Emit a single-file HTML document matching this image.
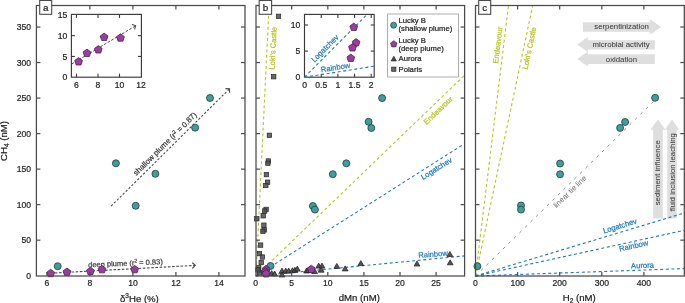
<!DOCTYPE html>
<html><head><meta charset="utf-8"><style>
html,body{margin:0;padding:0;background:#fff;width:685px;height:303px;overflow:hidden;}
svg{display:block;will-change:transform;}
</style></head><body>
<svg width="685" height="303" viewBox="0 0 685 303" font-family='"Liberation Sans", sans-serif'>
<rect width="685" height="303" fill="#fff"/>
<line x1="111.1" y1="206.1" x2="229.4" y2="88.9" stroke="#4a4a4a" stroke-width="1.1" stroke-dasharray="2.3 1.8" />
<polyline points="225.5,88.6 229.5,88.9 229.6,92.8" fill="none" stroke="#4a4a4a" stroke-width="1.15"/>
<line x1="50.5" y1="273.2" x2="195.0" y2="265.4" stroke="#4a4a4a" stroke-width="1.1" stroke-dasharray="2.6 1.6" />
<polyline points="192.2,262.8 195.3,265.3 192.3,268.4" fill="none" stroke="#4a4a4a" stroke-width="1.15"/>
<text transform="translate(125.60 265.80) rotate(-2.5)" font-size="7.5" text-anchor="middle" fill="#3a3a3a" stroke="#3a3a3a" stroke-width="0.22" >deep plume (r<tspan dy="-2.8" font-size="5.0">2</tspan><tspan dy="2.8"> = 0.83)</tspan></text>
<text transform="translate(166.80 145.70) rotate(-44.8)" font-size="7.75" text-anchor="middle" fill="#3a3a3a" stroke="#3a3a3a" stroke-width="0.22" >shallow plume (r<tspan dy="-2.9" font-size="5.2">2</tspan><tspan dy="2.9"> = 0.87)</tspan></text>
<circle cx="57.7" cy="266.2" r="3.5" fill="#3f9e9a" stroke="#1f3f3e" stroke-width="0.8"/>
<circle cx="115.9" cy="163.3" r="3.5" fill="#3f9e9a" stroke="#1f3f3e" stroke-width="0.8"/>
<circle cx="135.7" cy="205.8" r="3.5" fill="#3f9e9a" stroke="#1f3f3e" stroke-width="0.8"/>
<circle cx="155.4" cy="173.8" r="3.5" fill="#3f9e9a" stroke="#1f3f3e" stroke-width="0.8"/>
<circle cx="195.1" cy="127.7" r="3.5" fill="#3f9e9a" stroke="#1f3f3e" stroke-width="0.8"/>
<circle cx="210" cy="98" r="3.5" fill="#3f9e9a" stroke="#1f3f3e" stroke-width="0.8"/>
<polygon points="50.70,269.31 54.60,272.14 53.11,276.73 48.29,276.73 46.80,272.14" fill="#9b3d9e" stroke="#3b173d" stroke-width="0.7" stroke-linejoin="round"/>
<polygon points="67.00,268.01 70.90,270.84 69.41,275.43 64.59,275.43 63.10,270.84" fill="#9b3d9e" stroke="#3b173d" stroke-width="0.7" stroke-linejoin="round"/>
<polygon points="90.40,267.21 94.30,270.04 92.81,274.63 87.99,274.63 86.50,270.04" fill="#9b3d9e" stroke="#3b173d" stroke-width="0.7" stroke-linejoin="round"/>
<polygon points="102.00,265.41 105.90,268.24 104.41,272.83 99.59,272.83 98.10,268.24" fill="#9b3d9e" stroke="#3b173d" stroke-width="0.7" stroke-linejoin="round"/>
<polygon points="134.70,265.41 138.60,268.24 137.11,272.83 132.29,272.83 130.80,268.24" fill="#9b3d9e" stroke="#3b173d" stroke-width="0.7" stroke-linejoin="round"/>
<rect x="36.4" y="5.5" width="208.6" height="270.5" fill="none" stroke="#4a4a4a" stroke-width="1.25"/>
<line x1="46.9" y1="276.0" x2="46.9" y2="272.0" stroke="#4a4a4a" stroke-width="1.2"/>
<line x1="46.9" y1="5.5" x2="46.9" y2="9.5" stroke="#4a4a4a" stroke-width="1.2"/>
<line x1="89.9" y1="276.0" x2="89.9" y2="272.0" stroke="#4a4a4a" stroke-width="1.2"/>
<line x1="89.9" y1="5.5" x2="89.9" y2="9.5" stroke="#4a4a4a" stroke-width="1.2"/>
<line x1="132.9" y1="276.0" x2="132.9" y2="272.0" stroke="#4a4a4a" stroke-width="1.2"/>
<line x1="132.9" y1="5.5" x2="132.9" y2="9.5" stroke="#4a4a4a" stroke-width="1.2"/>
<line x1="175.9" y1="276.0" x2="175.9" y2="272.0" stroke="#4a4a4a" stroke-width="1.2"/>
<line x1="175.9" y1="5.5" x2="175.9" y2="9.5" stroke="#4a4a4a" stroke-width="1.2"/>
<line x1="218.9" y1="276.0" x2="218.9" y2="272.0" stroke="#4a4a4a" stroke-width="1.2"/>
<line x1="218.9" y1="5.5" x2="218.9" y2="9.5" stroke="#4a4a4a" stroke-width="1.2"/>
<line x1="36.4" y1="240.17499999999998" x2="40.4" y2="240.17499999999998" stroke="#4a4a4a" stroke-width="1.2"/>
<line x1="245.0" y1="240.17499999999998" x2="241.0" y2="240.17499999999998" stroke="#4a4a4a" stroke-width="1.2"/>
<line x1="36.4" y1="204.64999999999998" x2="40.4" y2="204.64999999999998" stroke="#4a4a4a" stroke-width="1.2"/>
<line x1="245.0" y1="204.64999999999998" x2="241.0" y2="204.64999999999998" stroke="#4a4a4a" stroke-width="1.2"/>
<line x1="36.4" y1="169.125" x2="40.4" y2="169.125" stroke="#4a4a4a" stroke-width="1.2"/>
<line x1="245.0" y1="169.125" x2="241.0" y2="169.125" stroke="#4a4a4a" stroke-width="1.2"/>
<line x1="36.4" y1="133.6" x2="40.4" y2="133.6" stroke="#4a4a4a" stroke-width="1.2"/>
<line x1="245.0" y1="133.6" x2="241.0" y2="133.6" stroke="#4a4a4a" stroke-width="1.2"/>
<line x1="36.4" y1="98.07499999999999" x2="40.4" y2="98.07499999999999" stroke="#4a4a4a" stroke-width="1.2"/>
<line x1="245.0" y1="98.07499999999999" x2="241.0" y2="98.07499999999999" stroke="#4a4a4a" stroke-width="1.2"/>
<line x1="36.4" y1="62.54999999999998" x2="40.4" y2="62.54999999999998" stroke="#4a4a4a" stroke-width="1.2"/>
<line x1="245.0" y1="62.54999999999998" x2="241.0" y2="62.54999999999998" stroke="#4a4a4a" stroke-width="1.2"/>
<line x1="36.4" y1="27.024999999999977" x2="40.4" y2="27.024999999999977" stroke="#4a4a4a" stroke-width="1.2"/>
<line x1="245.0" y1="27.024999999999977" x2="241.0" y2="27.024999999999977" stroke="#4a4a4a" stroke-width="1.2"/>
<text transform="translate(31.00 278.90) scale(0.935 1)" font-size="9.2" text-anchor="end" fill="#222" stroke="#222" stroke-width="0.22" >0</text>
<text transform="translate(31.00 243.37) scale(0.935 1)" font-size="9.2" text-anchor="end" fill="#222" stroke="#222" stroke-width="0.22" >50</text>
<text transform="translate(31.00 207.85) scale(0.935 1)" font-size="9.2" text-anchor="end" fill="#222" stroke="#222" stroke-width="0.22" >100</text>
<text transform="translate(31.00 172.32) scale(0.935 1)" font-size="9.2" text-anchor="end" fill="#222" stroke="#222" stroke-width="0.22" >150</text>
<text transform="translate(31.00 136.80) scale(0.935 1)" font-size="9.2" text-anchor="end" fill="#222" stroke="#222" stroke-width="0.22" >200</text>
<text transform="translate(31.00 101.27) scale(0.935 1)" font-size="9.2" text-anchor="end" fill="#222" stroke="#222" stroke-width="0.22" >250</text>
<text transform="translate(31.00 65.75) scale(0.935 1)" font-size="9.2" text-anchor="end" fill="#222" stroke="#222" stroke-width="0.22" >300</text>
<text transform="translate(31.00 30.22) scale(0.935 1)" font-size="9.2" text-anchor="end" fill="#222" stroke="#222" stroke-width="0.22" >350</text>
<text transform="translate(46.90 286.30) scale(0.935 1)" font-size="9.2" text-anchor="middle" fill="#222" stroke="#222" stroke-width="0.22" >6</text>
<text transform="translate(89.90 286.30) scale(0.935 1)" font-size="9.2" text-anchor="middle" fill="#222" stroke="#222" stroke-width="0.22" >8</text>
<text transform="translate(132.90 286.30) scale(0.935 1)" font-size="9.2" text-anchor="middle" fill="#222" stroke="#222" stroke-width="0.22" >10</text>
<text transform="translate(175.90 286.30) scale(0.935 1)" font-size="9.2" text-anchor="middle" fill="#222" stroke="#222" stroke-width="0.22" >12</text>
<text transform="translate(218.90 286.30) scale(0.935 1)" font-size="9.2" text-anchor="middle" fill="#222" stroke="#222" stroke-width="0.22" >14</text>
<rect x="71.4" y="14.4" width="70.0" height="62.800000000000004" fill="#fff" stroke="#3a3a3a" stroke-width="1.15"/>
<line x1="76.5" y1="77.2" x2="76.5" y2="73.7" stroke="#3a3a3a" stroke-width="1.1"/>
<line x1="76.5" y1="14.4" x2="76.5" y2="17.9" stroke="#3a3a3a" stroke-width="1.1"/>
<line x1="98.0" y1="77.2" x2="98.0" y2="73.7" stroke="#3a3a3a" stroke-width="1.1"/>
<line x1="98.0" y1="14.4" x2="98.0" y2="17.9" stroke="#3a3a3a" stroke-width="1.1"/>
<line x1="119.5" y1="77.2" x2="119.5" y2="73.7" stroke="#3a3a3a" stroke-width="1.1"/>
<line x1="119.5" y1="14.4" x2="119.5" y2="17.9" stroke="#3a3a3a" stroke-width="1.1"/>
<line x1="71.4" y1="56.435" x2="74.9" y2="56.435" stroke="#3a3a3a" stroke-width="1.1"/>
<line x1="141.4" y1="56.435" x2="137.9" y2="56.435" stroke="#3a3a3a" stroke-width="1.1"/>
<line x1="71.4" y1="35.67000000000001" x2="74.9" y2="35.67000000000001" stroke="#3a3a3a" stroke-width="1.1"/>
<line x1="141.4" y1="35.67000000000001" x2="137.9" y2="35.67000000000001" stroke="#3a3a3a" stroke-width="1.1"/>
<line x1="71.6" y1="64.0" x2="135.0" y2="26.2" stroke="#4a4a4a" stroke-width="1.0" stroke-dasharray="2.6 1.6" />
<polyline points="131.9,24.4 135.6,25.6 134.6,29.4" fill="none" stroke="#4a4a4a" stroke-width="1.1"/>
<polygon points="78.60,57.61 82.50,60.44 81.01,65.03 76.19,65.03 74.70,60.44" fill="#9b3d9e" stroke="#3b173d" stroke-width="0.7" stroke-linejoin="round"/>
<polygon points="87.00,49.11 90.90,51.94 89.41,56.53 84.59,56.53 83.10,51.94" fill="#9b3d9e" stroke="#3b173d" stroke-width="0.7" stroke-linejoin="round"/>
<polygon points="98.30,45.61 102.20,48.44 100.71,53.03 95.89,53.03 94.40,48.44" fill="#9b3d9e" stroke="#3b173d" stroke-width="0.7" stroke-linejoin="round"/>
<polygon points="104.10,33.11 108.00,35.94 106.51,40.53 101.69,40.53 100.20,35.94" fill="#9b3d9e" stroke="#3b173d" stroke-width="0.7" stroke-linejoin="round"/>
<polygon points="120.50,33.81 124.40,36.64 122.91,41.23 118.09,41.23 116.60,36.64" fill="#9b3d9e" stroke="#3b173d" stroke-width="0.7" stroke-linejoin="round"/>
<text transform="translate(67.20 80.40) scale(0.935 1)" font-size="9.2" text-anchor="end" fill="#222" stroke="#222" stroke-width="0.22" >0</text>
<text transform="translate(67.20 59.64) scale(0.935 1)" font-size="9.2" text-anchor="end" fill="#222" stroke="#222" stroke-width="0.22" >5</text>
<text transform="translate(67.20 38.87) scale(0.935 1)" font-size="9.2" text-anchor="end" fill="#222" stroke="#222" stroke-width="0.22" >10</text>
<text transform="translate(67.20 18.11) scale(0.935 1)" font-size="9.2" text-anchor="end" fill="#222" stroke="#222" stroke-width="0.22" >15</text>
<text transform="translate(76.50 87.60) scale(0.935 1)" font-size="9.2" text-anchor="middle" fill="#222" stroke="#222" stroke-width="0.22" >6</text>
<text transform="translate(98.00 87.60) scale(0.935 1)" font-size="9.2" text-anchor="middle" fill="#222" stroke="#222" stroke-width="0.22" >8</text>
<text transform="translate(119.50 87.60) scale(0.935 1)" font-size="9.2" text-anchor="middle" fill="#222" stroke="#222" stroke-width="0.22" >10</text>
<text transform="translate(141.00 87.60) scale(0.935 1)" font-size="9.2" text-anchor="middle" fill="#222" stroke="#222" stroke-width="0.22" >12</text>
<line x1="256.0" y1="276.0" x2="269.1" y2="5.5" stroke="#b7c423" stroke-width="1.1" stroke-dasharray="3 2.6" />
<line x1="256.0" y1="276.0" x2="464.6" y2="75.2" stroke="#b7c423" stroke-width="1.1" stroke-dasharray="3 2.6" />
<line x1="256.0" y1="276.0" x2="464.6" y2="143.6" stroke="#2079bf" stroke-width="1.1" stroke-dasharray="3 2.6" />
<line x1="256.0" y1="276.0" x2="464.6" y2="255.9" stroke="#2079bf" stroke-width="1.1" stroke-dasharray="3 2.6" />
<text transform="translate(273.10 48.20) rotate(-87)" font-size="7.6" text-anchor="middle" fill="#b7c423" stroke="#b7c423" stroke-width="0.22" dominant-baseline="central">Loki's Castle</text>
<text transform="translate(438.20 110.50) rotate(-43.5)" font-size="7.6" text-anchor="middle" fill="#b7c423" stroke="#b7c423" stroke-width="0.22" dominant-baseline="central">Endeavour</text>
<text transform="translate(436.50 168.60) rotate(-32)" font-size="7.6" text-anchor="middle" fill="#2079bf" stroke="#2079bf" stroke-width="0.22" dominant-baseline="central">Logatchev</text>
<text transform="translate(433.00 254.20) rotate(-4.5)" font-size="7.6" text-anchor="middle" fill="#2079bf" stroke="#2079bf" stroke-width="0.22" dominant-baseline="central">Rainbow</text>
<rect x="276.30" y="14.10" width="4.4" height="4.4" fill="#4e4e4e" fill-opacity="0.85" stroke="#262626" stroke-width="0.7"/>
<rect x="271.50" y="74.50" width="4.4" height="4.4" fill="#4e4e4e" fill-opacity="0.85" stroke="#262626" stroke-width="0.7"/>
<rect x="267.20" y="133.10" width="4.4" height="4.4" fill="#4e4e4e" fill-opacity="0.85" stroke="#262626" stroke-width="0.7"/>
<rect x="266.20" y="158.80" width="4.4" height="4.4" fill="#4e4e4e" fill-opacity="0.85" stroke="#262626" stroke-width="0.7"/>
<rect x="265.70" y="161.00" width="4.4" height="4.4" fill="#4e4e4e" fill-opacity="0.85" stroke="#262626" stroke-width="0.7"/>
<rect x="264.20" y="172.40" width="4.4" height="4.4" fill="#4e4e4e" fill-opacity="0.85" stroke="#262626" stroke-width="0.7"/>
<rect x="265.40" y="180.00" width="4.4" height="4.4" fill="#4e4e4e" fill-opacity="0.85" stroke="#262626" stroke-width="0.7"/>
<rect x="263.60" y="183.30" width="4.4" height="4.4" fill="#4e4e4e" fill-opacity="0.85" stroke="#262626" stroke-width="0.7"/>
<rect x="263.90" y="207.20" width="4.4" height="4.4" fill="#4e4e4e" fill-opacity="0.85" stroke="#262626" stroke-width="0.7"/>
<rect x="262.50" y="208.80" width="4.4" height="4.4" fill="#4e4e4e" fill-opacity="0.85" stroke="#262626" stroke-width="0.7"/>
<rect x="261.00" y="213.60" width="4.4" height="4.4" fill="#4e4e4e" fill-opacity="0.85" stroke="#262626" stroke-width="0.7"/>
<rect x="254.60" y="216.60" width="4.4" height="4.4" fill="#4e4e4e" fill-opacity="0.85" stroke="#262626" stroke-width="0.7"/>
<rect x="261.70" y="223.00" width="4.4" height="4.4" fill="#4e4e4e" fill-opacity="0.85" stroke="#262626" stroke-width="0.7"/>
<rect x="262.00" y="227.70" width="4.4" height="4.4" fill="#4e4e4e" fill-opacity="0.85" stroke="#262626" stroke-width="0.7"/>
<rect x="260.70" y="229.10" width="4.4" height="4.4" fill="#4e4e4e" fill-opacity="0.85" stroke="#262626" stroke-width="0.7"/>
<rect x="258.40" y="242.90" width="4.4" height="4.4" fill="#4e4e4e" fill-opacity="0.85" stroke="#262626" stroke-width="0.7"/>
<rect x="257.30" y="251.40" width="4.4" height="4.4" fill="#4e4e4e" fill-opacity="0.85" stroke="#262626" stroke-width="0.7"/>
<rect x="260.20" y="254.80" width="4.4" height="4.4" fill="#4e4e4e" fill-opacity="0.85" stroke="#262626" stroke-width="0.7"/>
<rect x="259.00" y="260.30" width="4.4" height="4.4" fill="#4e4e4e" fill-opacity="0.85" stroke="#262626" stroke-width="0.7"/>
<rect x="256.50" y="265.50" width="4.4" height="4.4" fill="#4e4e4e" fill-opacity="0.85" stroke="#262626" stroke-width="0.7"/>
<rect x="257.30" y="270.70" width="4.4" height="4.4" fill="#4e4e4e" fill-opacity="0.85" stroke="#262626" stroke-width="0.7"/>
<rect x="255.80" y="267.70" width="4.4" height="4.4" fill="#4e4e4e" fill-opacity="0.85" stroke="#262626" stroke-width="0.7"/>
<polygon points="271.70,270.50 274.60,275.50 268.80,275.50" fill="#555" stroke="#1a1a1a" stroke-width="0.7" stroke-linejoin="round"/>
<polygon points="274.60,271.00 277.50,276.00 271.70,276.00" fill="#555" stroke="#1a1a1a" stroke-width="0.7" stroke-linejoin="round"/>
<polygon points="282.00,268.10 284.90,273.10 279.10,273.10" fill="#555" stroke="#1a1a1a" stroke-width="0.7" stroke-linejoin="round"/>
<polygon points="282.00,272.00 284.90,277.00 279.10,277.00" fill="#555" stroke="#1a1a1a" stroke-width="0.7" stroke-linejoin="round"/>
<polygon points="285.80,268.10 288.70,273.10 282.90,273.10" fill="#555" stroke="#1a1a1a" stroke-width="0.7" stroke-linejoin="round"/>
<polygon points="288.70,268.10 291.60,273.10 285.80,273.10" fill="#555" stroke="#1a1a1a" stroke-width="0.7" stroke-linejoin="round"/>
<polygon points="292.40,267.70 295.30,272.70 289.50,272.70" fill="#555" stroke="#1a1a1a" stroke-width="0.7" stroke-linejoin="round"/>
<polygon points="294.90,267.30 297.80,272.30 292.00,272.30" fill="#555" stroke="#1a1a1a" stroke-width="0.7" stroke-linejoin="round"/>
<polygon points="297.30,266.10 300.20,271.10 294.40,271.10" fill="#555" stroke="#1a1a1a" stroke-width="0.7" stroke-linejoin="round"/>
<polygon points="306.60,268.00 309.50,273.00 303.70,273.00" fill="#555" stroke="#1a1a1a" stroke-width="0.7" stroke-linejoin="round"/>
<polygon points="308.30,267.50 311.20,272.50 305.40,272.50" fill="#555" stroke="#1a1a1a" stroke-width="0.7" stroke-linejoin="round"/>
<polygon points="314.60,268.50 317.50,273.50 311.70,273.50" fill="#555" stroke="#1a1a1a" stroke-width="0.7" stroke-linejoin="round"/>
<polygon points="318.70,263.10 321.60,268.10 315.80,268.10" fill="#555" stroke="#1a1a1a" stroke-width="0.7" stroke-linejoin="round"/>
<polygon points="322.00,263.10 324.90,268.10 319.10,268.10" fill="#555" stroke="#1a1a1a" stroke-width="0.7" stroke-linejoin="round"/>
<polygon points="321.20,267.20 324.10,272.20 318.30,272.20" fill="#555" stroke="#1a1a1a" stroke-width="0.7" stroke-linejoin="round"/>
<polygon points="336.80,263.40 339.70,268.40 333.90,268.40" fill="#555" stroke="#1a1a1a" stroke-width="0.7" stroke-linejoin="round"/>
<polygon points="345.10,265.90 348.00,270.90 342.20,270.90" fill="#555" stroke="#1a1a1a" stroke-width="0.7" stroke-linejoin="round"/>
<polygon points="360.80,260.60 363.70,265.60 357.90,265.60" fill="#555" stroke="#1a1a1a" stroke-width="0.7" stroke-linejoin="round"/>
<polygon points="417.00,261.00 419.90,266.00 414.10,266.00" fill="#555" stroke="#1a1a1a" stroke-width="0.7" stroke-linejoin="round"/>
<polygon points="449.90,251.50 452.80,256.50 447.00,256.50" fill="#555" stroke="#1a1a1a" stroke-width="0.7" stroke-linejoin="round"/>
<polygon points="450.20,259.80 453.10,264.80 447.30,264.80" fill="#555" stroke="#1a1a1a" stroke-width="0.7" stroke-linejoin="round"/>
<circle cx="270.5" cy="266.0" r="3.5" fill="#3f9e9a" stroke="#1f3f3e" stroke-width="0.8"/>
<circle cx="312.9" cy="206" r="3.5" fill="#3f9e9a" stroke="#1f3f3e" stroke-width="0.8"/>
<circle cx="314.9" cy="209.6" r="3.5" fill="#3f9e9a" stroke="#1f3f3e" stroke-width="0.8"/>
<circle cx="332.8" cy="174.2" r="3.5" fill="#3f9e9a" stroke="#1f3f3e" stroke-width="0.8"/>
<circle cx="346.3" cy="163.3" r="3.5" fill="#3f9e9a" stroke="#1f3f3e" stroke-width="0.8"/>
<circle cx="368.6" cy="121.8" r="3.5" fill="#3f9e9a" stroke="#1f3f3e" stroke-width="0.8"/>
<circle cx="371.3" cy="128" r="3.5" fill="#3f9e9a" stroke="#1f3f3e" stroke-width="0.8"/>
<circle cx="382.1" cy="98.1" r="3.5" fill="#3f9e9a" stroke="#1f3f3e" stroke-width="0.8"/>
<polygon points="266.10,265.31 270.00,268.14 268.51,272.73 263.69,272.73 262.20,268.14" fill="#9b3d9e" stroke="#3b173d" stroke-width="0.7" stroke-linejoin="round"/>
<polygon points="265.60,267.71 269.50,270.54 268.01,275.13 263.19,275.13 261.70,270.54" fill="#9b3d9e" stroke="#3b173d" stroke-width="0.7" stroke-linejoin="round"/>
<polygon points="266.10,269.61 270.00,272.44 268.51,277.03 263.69,277.03 262.20,272.44" fill="#9b3d9e" stroke="#3b173d" stroke-width="0.7" stroke-linejoin="round"/>
<polygon points="311.30,265.21 315.20,268.04 313.71,272.63 308.89,272.63 307.40,268.04" fill="#9b3d9e" stroke="#3b173d" stroke-width="0.7" stroke-linejoin="round"/>
<rect x="256.0" y="5.5" width="208.60000000000002" height="270.5" fill="none" stroke="#4a4a4a" stroke-width="1.25"/>
<line x1="291.7" y1="276.0" x2="291.7" y2="272.0" stroke="#4a4a4a" stroke-width="1.2"/>
<line x1="291.7" y1="5.5" x2="291.7" y2="9.5" stroke="#4a4a4a" stroke-width="1.2"/>
<line x1="327.8" y1="276.0" x2="327.8" y2="272.0" stroke="#4a4a4a" stroke-width="1.2"/>
<line x1="327.8" y1="5.5" x2="327.8" y2="9.5" stroke="#4a4a4a" stroke-width="1.2"/>
<line x1="363.9" y1="276.0" x2="363.9" y2="272.0" stroke="#4a4a4a" stroke-width="1.2"/>
<line x1="363.9" y1="5.5" x2="363.9" y2="9.5" stroke="#4a4a4a" stroke-width="1.2"/>
<line x1="400.0" y1="276.0" x2="400.0" y2="272.0" stroke="#4a4a4a" stroke-width="1.2"/>
<line x1="400.0" y1="5.5" x2="400.0" y2="9.5" stroke="#4a4a4a" stroke-width="1.2"/>
<line x1="436.1" y1="276.0" x2="436.1" y2="272.0" stroke="#4a4a4a" stroke-width="1.2"/>
<line x1="436.1" y1="5.5" x2="436.1" y2="9.5" stroke="#4a4a4a" stroke-width="1.2"/>
<line x1="256.0" y1="240.17499999999998" x2="260.0" y2="240.17499999999998" stroke="#4a4a4a" stroke-width="1.2"/>
<line x1="464.6" y1="240.17499999999998" x2="460.6" y2="240.17499999999998" stroke="#4a4a4a" stroke-width="1.2"/>
<line x1="256.0" y1="204.64999999999998" x2="260.0" y2="204.64999999999998" stroke="#4a4a4a" stroke-width="1.2"/>
<line x1="464.6" y1="204.64999999999998" x2="460.6" y2="204.64999999999998" stroke="#4a4a4a" stroke-width="1.2"/>
<line x1="256.0" y1="169.125" x2="260.0" y2="169.125" stroke="#4a4a4a" stroke-width="1.2"/>
<line x1="464.6" y1="169.125" x2="460.6" y2="169.125" stroke="#4a4a4a" stroke-width="1.2"/>
<line x1="256.0" y1="133.6" x2="260.0" y2="133.6" stroke="#4a4a4a" stroke-width="1.2"/>
<line x1="464.6" y1="133.6" x2="460.6" y2="133.6" stroke="#4a4a4a" stroke-width="1.2"/>
<line x1="256.0" y1="98.07499999999999" x2="260.0" y2="98.07499999999999" stroke="#4a4a4a" stroke-width="1.2"/>
<line x1="464.6" y1="98.07499999999999" x2="460.6" y2="98.07499999999999" stroke="#4a4a4a" stroke-width="1.2"/>
<line x1="256.0" y1="62.54999999999998" x2="260.0" y2="62.54999999999998" stroke="#4a4a4a" stroke-width="1.2"/>
<line x1="464.6" y1="62.54999999999998" x2="460.6" y2="62.54999999999998" stroke="#4a4a4a" stroke-width="1.2"/>
<line x1="256.0" y1="27.024999999999977" x2="260.0" y2="27.024999999999977" stroke="#4a4a4a" stroke-width="1.2"/>
<line x1="464.6" y1="27.024999999999977" x2="460.6" y2="27.024999999999977" stroke="#4a4a4a" stroke-width="1.2"/>
<text transform="translate(255.60 286.30) scale(0.935 1)" font-size="9.2" text-anchor="middle" fill="#222" stroke="#222" stroke-width="0.22" >0</text>
<text transform="translate(291.70 286.30) scale(0.935 1)" font-size="9.2" text-anchor="middle" fill="#222" stroke="#222" stroke-width="0.22" >5</text>
<text transform="translate(327.80 286.30) scale(0.935 1)" font-size="9.2" text-anchor="middle" fill="#222" stroke="#222" stroke-width="0.22" >10</text>
<text transform="translate(363.90 286.30) scale(0.935 1)" font-size="9.2" text-anchor="middle" fill="#222" stroke="#222" stroke-width="0.22" >15</text>
<text transform="translate(400.00 286.30) scale(0.935 1)" font-size="9.2" text-anchor="middle" fill="#222" stroke="#222" stroke-width="0.22" >20</text>
<text transform="translate(436.10 286.30) scale(0.935 1)" font-size="9.2" text-anchor="middle" fill="#222" stroke="#222" stroke-width="0.22" >25</text>
<rect x="304.5" y="14.4" width="69.69999999999999" height="62.800000000000004" fill="#fff" stroke="#3a3a3a" stroke-width="1.15"/>
<line x1="321.25" y1="77.2" x2="321.25" y2="73.7" stroke="#3a3a3a" stroke-width="1.1"/>
<line x1="321.25" y1="14.4" x2="321.25" y2="17.9" stroke="#3a3a3a" stroke-width="1.1"/>
<line x1="337.90000000000003" y1="77.2" x2="337.90000000000003" y2="73.7" stroke="#3a3a3a" stroke-width="1.1"/>
<line x1="337.90000000000003" y1="14.4" x2="337.90000000000003" y2="17.9" stroke="#3a3a3a" stroke-width="1.1"/>
<line x1="354.55" y1="77.2" x2="354.55" y2="73.7" stroke="#3a3a3a" stroke-width="1.1"/>
<line x1="354.55" y1="14.4" x2="354.55" y2="17.9" stroke="#3a3a3a" stroke-width="1.1"/>
<line x1="371.20000000000005" y1="77.2" x2="371.20000000000005" y2="73.7" stroke="#3a3a3a" stroke-width="1.1"/>
<line x1="371.20000000000005" y1="14.4" x2="371.20000000000005" y2="17.9" stroke="#3a3a3a" stroke-width="1.1"/>
<line x1="304.5" y1="51.10000000000001" x2="308.0" y2="51.10000000000001" stroke="#3a3a3a" stroke-width="1.1"/>
<line x1="374.2" y1="51.10000000000001" x2="370.7" y2="51.10000000000001" stroke="#3a3a3a" stroke-width="1.1"/>
<line x1="304.5" y1="25.000000000000007" x2="308.0" y2="25.000000000000007" stroke="#3a3a3a" stroke-width="1.1"/>
<line x1="374.2" y1="25.000000000000007" x2="370.7" y2="25.000000000000007" stroke="#3a3a3a" stroke-width="1.1"/>
<line x1="304.5" y1="77.2" x2="367.1" y2="14.4" stroke="#2079bf" stroke-width="1.1" stroke-dasharray="3 2.6" />
<line x1="304.5" y1="77.2" x2="374.2" y2="66.2" stroke="#2079bf" stroke-width="1.1" stroke-dasharray="3 2.6" />
<text transform="translate(325.00 48.50) rotate(-45)" font-size="7.6" text-anchor="middle" fill="#2079bf" stroke="#2079bf" stroke-width="0.22" dominant-baseline="central">Logatchev</text>
<text transform="translate(335.50 67.50) rotate(-9)" font-size="7.6" text-anchor="middle" fill="#2079bf" stroke="#2079bf" stroke-width="0.22" dominant-baseline="central">Rainbow</text>
<polygon points="353.80,23.11 357.70,25.94 356.21,30.53 351.39,30.53 349.90,25.94" fill="#9b3d9e" stroke="#3b173d" stroke-width="0.7" stroke-linejoin="round"/>
<polygon points="356.10,38.61 360.00,41.44 358.51,46.03 353.69,46.03 352.20,41.44" fill="#9b3d9e" stroke="#3b173d" stroke-width="0.7" stroke-linejoin="round"/>
<polygon points="352.50,43.61 356.40,46.44 354.91,51.03 350.09,51.03 348.60,46.44" fill="#9b3d9e" stroke="#3b173d" stroke-width="0.7" stroke-linejoin="round"/>
<polygon points="350.80,54.11 354.70,56.94 353.21,61.53 348.39,61.53 346.90,56.94" fill="#9b3d9e" stroke="#3b173d" stroke-width="0.7" stroke-linejoin="round"/>
<text transform="translate(300.20 80.40) scale(0.935 1)" font-size="9.2" text-anchor="end" fill="#222" stroke="#222" stroke-width="0.22" >0</text>
<text transform="translate(300.20 54.30) scale(0.935 1)" font-size="9.2" text-anchor="end" fill="#222" stroke="#222" stroke-width="0.22" >5</text>
<text transform="translate(300.20 28.20) scale(0.935 1)" font-size="9.2" text-anchor="end" fill="#222" stroke="#222" stroke-width="0.22" >10</text>
<text transform="translate(304.60 87.60) scale(0.935 1)" font-size="9.2" text-anchor="middle" fill="#222" stroke="#222" stroke-width="0.22" >0</text>
<text transform="translate(321.25 87.60) scale(0.935 1)" font-size="9.2" text-anchor="middle" fill="#222" stroke="#222" stroke-width="0.22" >0.5</text>
<text transform="translate(337.90 87.60) scale(0.935 1)" font-size="9.2" text-anchor="middle" fill="#222" stroke="#222" stroke-width="0.22" >1</text>
<text transform="translate(354.55 87.60) scale(0.935 1)" font-size="9.2" text-anchor="middle" fill="#222" stroke="#222" stroke-width="0.22" >1.5</text>
<text transform="translate(371.20 87.60) scale(0.935 1)" font-size="9.2" text-anchor="middle" fill="#222" stroke="#222" stroke-width="0.22" >2</text>
<rect x="387.6" y="14" width="70.9" height="63" fill="#fff" stroke="#9a9a9a" stroke-width="0.8"/>
<circle cx="393.6" cy="25.2" r="3.0" fill="#3f9e9a" stroke="#1f3f3e" stroke-width="0.7"/>
<polygon points="393.80,40.74 397.03,43.09 395.80,46.89 391.80,46.89 390.57,43.09" fill="#9b3d9e" stroke="#3b173d" stroke-width="0.6" stroke-linejoin="round"/>
<polygon points="393.80,56.30 396.40,60.90 391.20,60.90" fill="#555" stroke="#1a1a1a" stroke-width="0.7" stroke-linejoin="round"/>
<rect x="391.70" y="67.10" width="4.2" height="4.2" fill="#4e4e4e" fill-opacity="0.85" stroke="#262626" stroke-width="0.7"/>
<text transform="translate(398.50 23.20)" font-size="7.7" text-anchor="start" fill="#222" stroke="#222" stroke-width="0.22" >Lucky B</text>
<text transform="translate(398.50 31.10)" font-size="7.7" text-anchor="start" fill="#222" stroke="#222" stroke-width="0.22" >(shallow plume)</text>
<text transform="translate(398.50 42.50)" font-size="7.7" text-anchor="start" fill="#222" stroke="#222" stroke-width="0.22" >Lucky B</text>
<text transform="translate(398.50 50.50)" font-size="7.7" text-anchor="start" fill="#222" stroke="#222" stroke-width="0.22" >(deep plume)</text>
<text transform="translate(398.50 61.00)" font-size="7.7" text-anchor="start" fill="#222" stroke="#222" stroke-width="0.22" >Aurora</text>
<text transform="translate(398.50 71.70)" font-size="7.7" text-anchor="start" fill="#222" stroke="#222" stroke-width="0.22" >Polaris</text>
<polygon points="582.9,22.2 650.2,22.2 650.2,19.2 661.1,27.0 650.2,34.7 650.2,31.8 582.9,31.8" fill="#dedede"/>
<polygon points="654.8,40.2 587.8,40.2 587.8,36.9 577.3,44.6 587.8,52.1 587.8,49.4 654.8,49.4" fill="#dedede"/>
<polygon points="654.8,54.3 587.8,54.3 587.8,51.5 577.3,59.0 587.8,66.5 587.8,63.9 654.8,63.9" fill="#dedede"/>
<polygon points="653.2,218.4 653.2,129.8 650.3,129.8 657.9,119.5 665.3,129.8 662.8,129.8 662.8,218.4" fill="#dedede"/>
<polygon points="667.2,218.4 667.2,129.8 664.8,129.8 672.0,119.5 679.2,129.8 676.7,129.8 676.7,218.4" fill="#dedede"/>
<text transform="translate(621.60 29.20)" font-size="7.8" text-anchor="middle" fill="#3a3a3a" stroke="#3a3a3a" stroke-width="0.05" >serpentinization</text>
<text transform="translate(621.00 47.10)" font-size="7.8" text-anchor="middle" fill="#3a3a3a" stroke="#3a3a3a" stroke-width="0.05" >microbial activity</text>
<text transform="translate(621.40 61.50)" font-size="7.8" text-anchor="middle" fill="#3a3a3a" stroke="#3a3a3a" stroke-width="0.05" >oxidation</text>
<text transform="translate(657.90 172.80) rotate(-90)" font-size="7.8" text-anchor="middle" fill="#3a3a3a" stroke="#3a3a3a" stroke-width="0.05" dominant-baseline="central">sediment influence</text>
<text transform="translate(672.00 172.20) rotate(-90)" font-size="7.8" text-anchor="middle" fill="#3a3a3a" stroke="#3a3a3a" stroke-width="0.05" dominant-baseline="central">fluid inclusion leaching</text>
<line x1="475.5" y1="276.0" x2="508.5" y2="5.5" stroke="#b7c423" stroke-width="1.1" stroke-dasharray="3 2.6" />
<line x1="475.5" y1="276.0" x2="532.7" y2="5.5" stroke="#b7c423" stroke-width="1.1" stroke-dasharray="3 2.6" />
<line x1="475.5" y1="276.0" x2="653.5" y2="101.5" stroke="#858585" stroke-width="0.9" stroke-dasharray="2.8 4.9" />
<line x1="475.5" y1="276.0" x2="684.3" y2="213.0" stroke="#2079bf" stroke-width="1.1" stroke-dasharray="3 2.6" />
<line x1="475.5" y1="276.0" x2="684.3" y2="230.3" stroke="#2079bf" stroke-width="1.1" stroke-dasharray="3 2.6" />
<line x1="475.5" y1="276.0" x2="684.3" y2="268.6" stroke="#2079bf" stroke-width="1.1" stroke-dasharray="3 2.6" />
<text transform="translate(497.80 45.20) rotate(-82.8)" font-size="7.6" text-anchor="middle" fill="#b7c423" stroke="#b7c423" stroke-width="0.22" dominant-baseline="central">Endeavour</text>
<text transform="translate(529.50 48.20) rotate(-78.3)" font-size="7.6" text-anchor="middle" fill="#b7c423" stroke="#b7c423" stroke-width="0.22" dominant-baseline="central">Loki's Castle</text>
<text transform="translate(570.00 191.70) rotate(-44)" font-size="7.6" text-anchor="middle" fill="#707070" stroke="#707070" stroke-width="0.0" dominant-baseline="central">linear tie line</text>
<text transform="translate(619.90 226.00) rotate(-17)" font-size="7.6" text-anchor="middle" fill="#2079bf" stroke="#2079bf" stroke-width="0.22" dominant-baseline="central">Logatchev</text>
<text transform="translate(633.60 245.90) rotate(-12.5)" font-size="7.6" text-anchor="middle" fill="#2079bf" stroke="#2079bf" stroke-width="0.22" dominant-baseline="central">Rainbow</text>
<text transform="translate(642.40 265.50) rotate(-2)" font-size="7.6" text-anchor="middle" fill="#2079bf" stroke="#2079bf" stroke-width="0.22" dominant-baseline="central">Aurora</text>
<circle cx="477.4" cy="266.2" r="3.5" fill="#3f9e9a" stroke="#1f3f3e" stroke-width="0.8"/>
<circle cx="521" cy="205.5" r="3.5" fill="#3f9e9a" stroke="#1f3f3e" stroke-width="0.8"/>
<circle cx="521" cy="209.6" r="3.5" fill="#3f9e9a" stroke="#1f3f3e" stroke-width="0.8"/>
<circle cx="560.1" cy="163.5" r="3.5" fill="#3f9e9a" stroke="#1f3f3e" stroke-width="0.8"/>
<circle cx="560.1" cy="174.3" r="3.5" fill="#3f9e9a" stroke="#1f3f3e" stroke-width="0.8"/>
<circle cx="620.1" cy="127.9" r="3.5" fill="#3f9e9a" stroke="#1f3f3e" stroke-width="0.8"/>
<circle cx="625.1" cy="122" r="3.5" fill="#3f9e9a" stroke="#1f3f3e" stroke-width="0.8"/>
<circle cx="655.1" cy="97.8" r="3.5" fill="#3f9e9a" stroke="#1f3f3e" stroke-width="0.8"/>
<rect x="475.5" y="5.5" width="208.79999999999995" height="270.5" fill="none" stroke="#4a4a4a" stroke-width="1.25"/>
<line x1="517.6" y1="276.0" x2="517.6" y2="272.0" stroke="#4a4a4a" stroke-width="1.2"/>
<line x1="517.6" y1="5.5" x2="517.6" y2="9.5" stroke="#4a4a4a" stroke-width="1.2"/>
<line x1="559.7" y1="276.0" x2="559.7" y2="272.0" stroke="#4a4a4a" stroke-width="1.2"/>
<line x1="559.7" y1="5.5" x2="559.7" y2="9.5" stroke="#4a4a4a" stroke-width="1.2"/>
<line x1="601.8" y1="276.0" x2="601.8" y2="272.0" stroke="#4a4a4a" stroke-width="1.2"/>
<line x1="601.8" y1="5.5" x2="601.8" y2="9.5" stroke="#4a4a4a" stroke-width="1.2"/>
<line x1="643.9" y1="276.0" x2="643.9" y2="272.0" stroke="#4a4a4a" stroke-width="1.2"/>
<line x1="643.9" y1="5.5" x2="643.9" y2="9.5" stroke="#4a4a4a" stroke-width="1.2"/>
<line x1="475.5" y1="240.17499999999998" x2="479.5" y2="240.17499999999998" stroke="#4a4a4a" stroke-width="1.2"/>
<line x1="684.3" y1="240.17499999999998" x2="680.3" y2="240.17499999999998" stroke="#4a4a4a" stroke-width="1.2"/>
<line x1="475.5" y1="204.64999999999998" x2="479.5" y2="204.64999999999998" stroke="#4a4a4a" stroke-width="1.2"/>
<line x1="684.3" y1="204.64999999999998" x2="680.3" y2="204.64999999999998" stroke="#4a4a4a" stroke-width="1.2"/>
<line x1="475.5" y1="169.125" x2="479.5" y2="169.125" stroke="#4a4a4a" stroke-width="1.2"/>
<line x1="684.3" y1="169.125" x2="680.3" y2="169.125" stroke="#4a4a4a" stroke-width="1.2"/>
<line x1="475.5" y1="133.6" x2="479.5" y2="133.6" stroke="#4a4a4a" stroke-width="1.2"/>
<line x1="684.3" y1="133.6" x2="680.3" y2="133.6" stroke="#4a4a4a" stroke-width="1.2"/>
<line x1="475.5" y1="98.07499999999999" x2="479.5" y2="98.07499999999999" stroke="#4a4a4a" stroke-width="1.2"/>
<line x1="684.3" y1="98.07499999999999" x2="680.3" y2="98.07499999999999" stroke="#4a4a4a" stroke-width="1.2"/>
<line x1="475.5" y1="62.54999999999998" x2="479.5" y2="62.54999999999998" stroke="#4a4a4a" stroke-width="1.2"/>
<line x1="684.3" y1="62.54999999999998" x2="680.3" y2="62.54999999999998" stroke="#4a4a4a" stroke-width="1.2"/>
<line x1="475.5" y1="27.024999999999977" x2="479.5" y2="27.024999999999977" stroke="#4a4a4a" stroke-width="1.2"/>
<line x1="684.3" y1="27.024999999999977" x2="680.3" y2="27.024999999999977" stroke="#4a4a4a" stroke-width="1.2"/>
<text transform="translate(475.50 286.30) scale(0.935 1)" font-size="9.2" text-anchor="middle" fill="#222" stroke="#222" stroke-width="0.22" >0</text>
<text transform="translate(517.60 286.30) scale(0.935 1)" font-size="9.2" text-anchor="middle" fill="#222" stroke="#222" stroke-width="0.22" >100</text>
<text transform="translate(559.70 286.30) scale(0.935 1)" font-size="9.2" text-anchor="middle" fill="#222" stroke="#222" stroke-width="0.22" >200</text>
<text transform="translate(601.80 286.30) scale(0.935 1)" font-size="9.2" text-anchor="middle" fill="#222" stroke="#222" stroke-width="0.22" >300</text>
<text transform="translate(643.90 286.30) scale(0.935 1)" font-size="9.2" text-anchor="middle" fill="#222" stroke="#222" stroke-width="0.22" >400</text>
<rect x="39.7" y="0.45" width="12.0" height="13.85" fill="#fff" stroke="#4a4a4a" stroke-width="1.1"/>
<text transform="translate(45.70 10.90)" font-size="9.9" text-anchor="middle" fill="#222" stroke="#222" stroke-width="0.22" >a</text>
<rect x="259.2" y="0.45" width="12.400000000000034" height="13.85" fill="#fff" stroke="#4a4a4a" stroke-width="1.1"/>
<text transform="translate(265.40 10.90)" font-size="9.9" text-anchor="middle" fill="#222" stroke="#222" stroke-width="0.22" >b</text>
<rect x="478.7" y="0.45" width="12.0" height="13.85" fill="#fff" stroke="#4a4a4a" stroke-width="1.1"/>
<text transform="translate(484.70 10.90)" font-size="9.9" text-anchor="middle" fill="#222" stroke="#222" stroke-width="0.22" >c</text>
<text transform="translate(139.40 301.50)" font-size="9.6" text-anchor="middle" fill="#222" stroke="#222" stroke-width="0.22" >δ<tspan dy="-3.3" font-size="6.5">3</tspan><tspan dy="3.3">He (%)</tspan></text>
<text transform="translate(359.30 301.00)" font-size="9.6" text-anchor="middle" fill="#222" stroke="#222" stroke-width="0.22" >dMn (nM)</text>
<text transform="translate(579.20 300.70)" font-size="9.6" text-anchor="middle" fill="#222" stroke="#222" stroke-width="0.22" >H<tspan dy="2" font-size="6.5">2</tspan><tspan dy="-2"> (nM)</tspan></text>
<text transform="translate(6.80 141.00) rotate(-90)" font-size="9.6" text-anchor="middle" fill="#222" stroke="#222" stroke-width="0.22" >CH<tspan dy="2" font-size="6.5">4</tspan><tspan dy="-2"> (nM)</tspan></text>
</svg>
</body></html>
